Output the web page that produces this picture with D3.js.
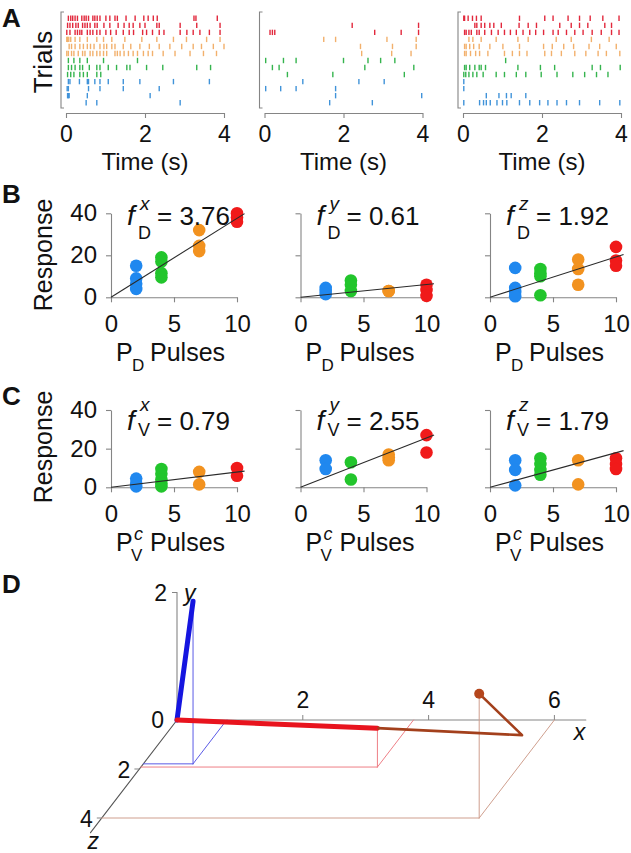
<!DOCTYPE html>
<html><head><meta charset="utf-8">
<script src="https://cdn.jsdelivr.net/npm/d3@7"></script>
<style>
body{margin:0;background:#fff}
text{font-family:"Liberation Sans",Arial,Helvetica,sans-serif;fill:#111}
</style>
</head><body><script>
// ---------------- DATA ----------------
// Panel A: spike times (s) per trial row (rows 0-2 red, 3-5 orange, 6-8 green, 9-12 blue)
const rasterA1 = [
  [0.06,0.12,0.17,0.23,0.29,0.40,0.46,0.51,0.57,0.68,0.73,0.79,0.86,1.01,1.11,1.24,1.30,1.52,1.75,1.97,2.08,2.21,2.31,3.24,3.29,3.83],
  [0.04,0.10,0.17,0.25,0.31,0.42,0.48,0.54,0.61,0.73,0.79,0.96,1.11,1.32,1.47,1.60,1.70,1.87,2.00,2.30,2.36,2.89,3.31,3.90],
  [0.02,0.10,0.23,0.29,0.35,0.40,0.54,0.61,0.68,0.78,0.86,1.01,1.13,1.27,1.45,1.60,1.71,1.94,2.04,2.19,2.36,2.48,2.89,3.06,3.22,3.39,3.63,3.90],
  [0.02,0.04,0.07,0.12,0.23,0.35,0.54,0.78,0.95,1.16,1.49,1.92,2.30,2.72,3.05,3.56,3.90],
  [0.08,0.14,0.23,0.35,0.44,0.54,0.62,0.71,0.86,0.96,1.03,1.16,1.24,1.45,1.64,1.87,2.11,2.36,2.63,2.93,3.22,3.43,3.73,4.00],
  [0.02,0.06,0.14,0.20,0.31,0.42,0.48,0.61,0.68,0.78,0.86,0.95,1.03,1.24,1.30,1.37,1.47,1.58,1.70,1.81,1.96,2.08,2.19,2.46,2.76,3.14,3.48,3.81],
  [0.06,0.20,0.35,0.54,0.95,1.81],
  [0.06,0.14,0.23,0.35,0.42,0.59,0.78,0.86,1.07,1.28,1.54,1.62,2.04,2.45,3.31,3.66],
  [0.04,0.12,0.20,0.35,0.44,0.54,0.78,0.88],
  [0.06,0.10,0.34,0.54,0.57,0.73,0.86,1.07,1.45,1.87,2.72,3.63],
  [0.03,0.06,0.57,0.86,1.45,2.36],
  [0.04,0.06,0.08,0.54,2.13],
  [0.51,0.78,2.89]
];
const rasterA2 = [
  [],
  [2.22,3.90],
  [0.14,0.20,0.26,2.79,3.46,3.90],
  [1.50,1.80,3.10,3.84],
  [2.43,3.24,3.84],
  [2.46,3.22,3.71],
  [0.03,0.48,0.80,2.00,2.62,2.94,3.30],
  [0.20,0.37,2.54,3.78],
  [0.58,1.73,3.54],
  [0.97,2.39,3.03],
  [0.03,0.41,0.80,1.80],
  [1.80,3.98],
  [1.65,2.73]
];
const rasterA3 = [
  [0.02,0.04,0.13,0.24,0.34,0.46,1.43,2.07,2.28,2.66,2.95,3.22,3.54,3.95],
  [0.30,0.35,0.46,0.55,0.68,0.78,0.97,1.42,1.65,1.86,2.45,2.74,2.95,3.16,3.59,3.76],
  [0.04,0.08,0.15,0.21,0.35,0.41,0.55,0.72,0.89,1.05,1.20,1.35,1.52,1.69,1.84,2.04,2.28,2.41,2.62,2.83,3.04,3.27,3.50,3.76,3.95],
  [0.15,0.25,0.46,0.84,1.39,1.65,2.36,2.74,3.25,3.70],
  [0.04,0.08,0.17,0.27,0.41,0.68,1.01,1.43,2.04,2.26,2.55,2.80,3.19,3.46,3.88],
  [0.04,0.08,0.19,0.32,0.42,0.63,1.05,1.25,1.43,1.62,2.07,2.24,2.49,2.83,3.11,3.42,3.63,3.97],
  [1.08],
  [0.04,0.08,0.17,0.30,0.41,0.46,0.57,1.39,1.96,2.32,3.27,3.48,3.98],
  [0.02,0.07,0.15,0.25,0.35,0.51,0.84,1.05,1.35,1.59,1.98,2.38,2.78,3.08,3.38,3.67],
  [0.02],
  [0.02],
  [0.59,0.91,1.10,1.22,1.59],
  [0.02,0.42,0.52,0.59,0.69,0.86,1.00,1.11,1.43,1.69,1.94,2.15,2.38,2.62,2.95,3.46,3.97]
];
const rowGroups = ["red","red","red","orange","orange","orange","green","green","green","blue","blue","blue","blue"];
const timeTicks = [0, 2, 4];

// Panels B, C: pulses and responses (per pulse level)
const pulses = [2, 4, 7, 10];
const respDx = [[15, 9, 6.5, 4], [19, 17, 11.5, 9.5], [32, 24.5, 22], [40, 38, 36]];
const respDy = [[4.5, 3, 1.5], [8, 6, 3], [3, 3], [6, 3.5, 0.7]];
const respDz = [[14, 4.5, 2.5, 0.5], [13.5, 11.5, 10, 1], [18, 13.5, 6], [24, 17.5, 15]];
const respVx = [[4.5, 2, 0.5], [9.5, 7, 4, 2, 0.5], [8, 1.5], [10, 6]];
const respVy = [[14, 9.5], [13, 4], [17, 15.5, 14], [27, 18]];
const respVz = [[14, 9, 1], [15, 12, 9, 6.5], [14, 1.5], [15, 12, 9.5]];
const slopesD = [3.76, 0.61, 1.92];
const slopesV = [0.79, 2.55, 1.79];
const compNames = ["x", "y", "z"];
const pulseTicks = [0, 5, 10];
const respTicks = [0, 20, 40];

// Panel D: 3D vectors (x, y, z)
const vecV = [0.79, 2.55, 1.79];
const vecD = [3.76, 0.61, 1.92];
const pathCombined = [[3.76, 0.61, 1.92], [6.06, 0.50, 1.92], [6.0, 1.95, 4.0]];
const axisTicksX3 = [2, 4, 6];
const axisTicksY3 = [0, 2];
const axisTicksZ3 = [2, 4];

// ---------------- STYLE ----------------
const rasterColor = {red:"#e2283c", orange:"#f2b06c", green:"#35b44e", blue:"#4093d9"};
const dotColor = {red:"#f01a1a", orange:"#f2921f", green:"#22c52c", blue:"#2088ef"};
const dotColors = [dotColor.blue, dotColor.green, dotColor.orange, dotColor.red];
const axisGray = "#858585";
const FONT = '"Liberation Sans",Arial,Helvetica,sans-serif';

const svg = d3.select("body").append("svg").attr("width", 631).attr("height", 853);

function panelLabel(t, x, y){
  svg.append("text").attr("x", x).attr("y", y).attr("font-size", 26).attr("font-weight", "bold").text(t);
}
function styleAxis(g){
  g.selectAll("path.domain").attr("stroke", axisGray).attr("stroke-width", 1.1);
  g.selectAll(".tick line").attr("stroke", axisGray).attr("stroke-width", 1.1);
  g.selectAll(".tick text").attr("font-family", FONT).attr("fill", "#111");
}

// ---------------- PANEL A ----------------
panelLabel("A", 2, 27);
const rasterX0 = [66, 264.5, 463];
[rasterA1, rasterA2, rasterA3].forEach((rows, p) => {
  const x0 = rasterX0[p];
  const x = d3.scaleLinear().domain([0, 4]).range([x0, x0 + 158]);
  const y = d3.scaleBand().domain(d3.range(rows.length)).range([14.8, 106.2]);
  const g = svg.append("g");
  rows.forEach((times, r) => {
    g.selectAll(null).data(times).enter().append("line")
      .attr("x1", d => x(d)).attr("x2", d => x(d))
      .attr("y1", y(r) + y.bandwidth()/2 - 2.7).attr("y2", y(r) + y.bandwidth()/2 + 2.7)
      .attr("stroke", rasterColor[rowGroups[r]]).attr("stroke-width", 1.4);
  });
  // bracket y-axis
  const bx = x0 - 5;
  svg.append("path").attr("d", `M${bx+3},12H${bx}V108H${bx+3}`)
    .attr("fill", "none").attr("stroke", axisGray).attr("stroke-width", 1.1);
  const ax = svg.append("g").attr("transform", "translate(0,113)")
    .call(d3.axisBottom(x).tickValues(timeTicks).tickSize(5).tickSizeOuter(0).tickPadding(8).tickFormat(d3.format("d")));
  styleAxis(ax);
  ax.selectAll(".tick text").attr("font-size", 23);
  svg.append("text").attr("x", x0 + 79).attr("y", 169.5).attr("text-anchor", "middle").attr("font-size", 24).text("Time (s)");
});
svg.append("text").attr("transform", "translate(52,62) rotate(-90)").attr("text-anchor", "middle").attr("font-size", 26).text("Trials");

// ---------------- PANELS B, C ----------------
const scatterX0 = [111, 300.5, 490];
function scatterRow(respSets, slopes, y0, y40, titleBase, supBase, subBase, subLetter, xlabBase, isV){
  respSets.forEach((resp, p) => {
    const x0 = scatterX0[p];
    const x = d3.scaleLinear().domain([0, 10]).range([x0, x0 + 126]);
    const y = d3.scaleLinear().domain([0, 40]).range([y0, y40]);
    const ay = svg.append("g").attr("transform", `translate(${x0},0)`)
      .call(d3.axisLeft(y).tickValues(respTicks).tickSize(5).tickSizeOuter(0).tickPadding(9)
        .tickFormat(p === 0 ? d3.format("d") : () => ""));
    styleAxis(ay); ay.selectAll(".tick text").attr("font-size", 24);
    const axb = svg.append("g").attr("transform", `translate(0,${y0})`)
      .call(d3.axisBottom(x).tickValues(pulseTicks).tickSize(5).tickSizeOuter(0).tickPadding(13).tickFormat(d3.format("d")));
    styleAxis(axb); axb.selectAll(".tick text").attr("font-size", 24);
    // points
    const pts = [];
    resp.forEach((vals, i) => vals.forEach(v => pts.push({x: pulses[i], y: v, c: dotColors[i]})));
    svg.append("g").selectAll("circle").data(pts).enter().append("circle")
      .attr("cx", d => x(d.x)).attr("cy", d => y(d.y)).attr("r", 6.3).attr("fill", d => d.c);
    // fit line
    const line = d3.line().x(d => x(d)).y(d => y(d * slopes[p]));
    svg.append("path").datum([0, 10.6]).attr("d", line).attr("fill", "none")
      .attr("stroke", "#2a2a2a").attr("stroke-width", 1.1);
    // title
    const tx = x0 + 16;
    svg.append("text").attr("x", tx).attr("y", titleBase).attr("font-size", 28).attr("font-style", "italic").text("f");
    svg.append("text").attr("x", tx + 13).attr("y", supBase).attr("font-size", 19).attr("font-style", "italic").text(compNames[p]);
    svg.append("text").attr("x", tx + 11).attr("y", subBase).attr("font-size", 18).text(subLetter);
    svg.append("text").attr("x", tx + 30).attr("y", titleBase).attr("font-size", 26).text("= " + slopes[p].toFixed(2));
    // x label
    svg.append("text").attr("x", x0 + 5).attr("y", xlabBase).attr("font-size", 25).text("P");
    if (isV) {
      svg.append("text").attr("x", x0 + 23).attr("y", xlabBase - 11).attr("font-size", 18).attr("font-style", "italic").text("c");
      svg.append("text").attr("x", x0 + 20).attr("y", xlabBase + 10).attr("font-size", 17).text("V");
    } else {
      svg.append("text").attr("x", x0 + 21).attr("y", xlabBase + 10).attr("font-size", 17).text("D");
    }
    svg.append("text").attr("x", x0 + 39).attr("y", xlabBase).attr("font-size", 25).text("Pulses");
  });
}
panelLabel("B", 2, 203);
scatterRow([respDx, respDy, respDz], slopesD, 297.3, 213.3, 225, 210, 239, "D", 361, false);
svg.append("text").attr("transform", "translate(52,255) rotate(-90)").attr("text-anchor", "middle").attr("font-size", 25).text("Response");
panelLabel("C", 2, 405);
scatterRow([respVx, respVy, respVz], slopesV, 487.3, 410, 430, 411, 436, "V", 551, true);
svg.append("text").attr("transform", "translate(52,447) rotate(-90)").attr("text-anchor", "middle").attr("font-size", 25).text("Response");

// ---------------- PANEL D ----------------
panelLabel("D", 2, 593);
const ox = 177, oy = 720;
const sx = d3.scaleLinear().domain([0, 6]).range([0, 377.4]);
const sy = d3.scaleLinear().domain([0, 2]).range([0, -127.5]);
const szx = d3.scaleLinear().domain([0, 4]).range([0, -75.2]);
const szy = d3.scaleLinear().domain([0, 4]).range([0, 98]);
const proj = ([a, b, c]) => [ox + sx(a) + szx(c), oy + sy(b) + szy(c)];
const gD = svg.append("g");
const seg = (p, q, col, w) => gD.append("line").attr("x1", proj(p)[0]).attr("y1", proj(p)[1])
  .attr("x2", proj(q)[0]).attr("y2", proj(q)[1]).attr("stroke", col).attr("stroke-width", w).attr("stroke-linecap", "round");
// axes
seg([0,0,0], [6.5,0,0], axisGray, 1.1);
seg([0,0,0], [0,2,0], axisGray, 1.1);
seg([0,0,0], [0,0,4.6], "#555", 1.1);
axisTicksX3.forEach(t => {
  const [px, py] = proj([t,0,0]);
  gD.append("line").attr("x1", px).attr("x2", px).attr("y1", py).attr("y2", py - 5).attr("stroke", axisGray);
  gD.append("text").attr("x", px).attr("y", py - 12).attr("text-anchor", "middle").attr("font-size", 23).text(t);
});
axisTicksY3.forEach(t => {
  const [px, py] = proj([0,t,0]);
  if (t > 0) gD.append("line").attr("x1", px - 5).attr("x2", px).attr("y1", py).attr("y2", py).attr("stroke", axisGray);
  gD.append("text").attr("x", px - (t > 0 ? 10 : 13)).attr("y", py + 8).attr("text-anchor", "end").attr("font-size", 23).text(t);
});
axisTicksZ3.forEach(t => {
  const [px, py] = proj([0,0,t]);
  gD.append("line").attr("x1", px - 5).attr("x2", px).attr("y1", py).attr("y2", py).attr("stroke", axisGray);
  gD.append("text").attr("x", px - 9).attr("y", py + 9).attr("text-anchor", "end").attr("font-size", 23).text(t);
});
gD.append("text").attr("x", proj([6.5,0,0])[0] - 12).attr("y", oy + 20).attr("font-size", 23).attr("font-style", "italic").text("x");
gD.append("text").attr("x", proj([0,2,0])[0] + 7).attr("y", proj([0,2,0])[1] + 8).attr("font-size", 23).attr("font-style", "italic").text("y");
gD.append("text").attr("x", proj([0,0,4.6])[0] - 3).attr("y", proj([0,0,4.6])[1] + 16).attr("font-size", 23).attr("font-style", "italic").text("z");
// drop lines
function drops(v, col){
  const f = [v[0], 0, v[2]];
  seg(v, f, col, 1); seg(f, [0, 0, v[2]], col, 1); seg(f, [v[0], 0, 0], col, 1);
}
drops(vecV, "#5a5ae6");
drops(vecD, "#ee7f86");
drops(pathCombined[pathCombined.length - 1], "#cf9f8e");
// vectors
seg([0,0,0], vecV, "#1515e0", 5);
seg([0,0,0], vecD, "#e8141e", 5);
const lineD = d3.line().x(d => proj(d)[0]).y(d => proj(d)[1]);
gD.append("path").datum(pathCombined).attr("d", lineD).attr("fill", "none").attr("stroke", "#a3401c").attr("stroke-width", 2.6).attr("stroke-linejoin", "round");
const last = proj(pathCombined[pathCombined.length - 1]);
gD.append("circle").attr("cx", last[0]).attr("cy", last[1]).attr("r", 5).attr("fill", "#b5461c");
</script></body></html>
